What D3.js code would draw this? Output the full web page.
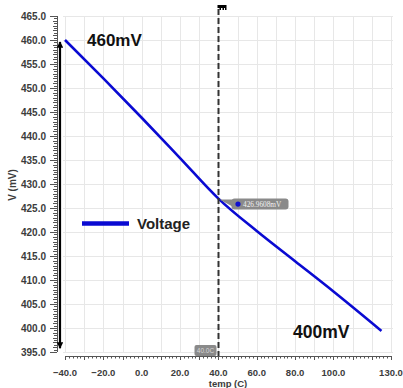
<!DOCTYPE html>
<html>
<head>
<meta charset="utf-8">
<script src="https://cdn.jsdelivr.net/npm/d3@7"></script>
<style>
  html, body { margin: 0; padding: 0; background: #fff; }
  svg { display: block; font-family: "Liberation Sans", Arial, sans-serif; }
</style>
</head>
<body>
<svg id="chart" width="403" height="388"></svg>
<script>
// voltage vs temperature
const temps = [-40, -20, 0, 20, 40, 60, 80, 100, 125];
const voltage = [460.0, 452.0, 443.8, 435.4, 426.96, 420.2, 413.9, 407.6, 399.4];

const xTicks = [-40, -20, 0, 20, 40, 60, 80, 100, 130];
const yTicks = [395, 400, 405, 410, 415, 420, 425, 430, 435, 440, 445, 450, 455, 460, 465];

const cursorTemp = 40;
const cursorValue = 426.9608;
const topNote = "460mV";
const bottomNote = "400mV";

const svg = d3.select("#chart");

const x = d3.scaleLinear().domain([-40, 130]).range([65, 391]);
const y = d3.scaleLinear().domain([395, 465]).range([352, 16]);

// grid
const grid = svg.append("g").attr("stroke", "#e7e7e7").attr("stroke-width", 1);
grid.selectAll("line.v")
  .data(d3.range(-40, 131, 10))
  .join("line")
  .attr("x1", d => Math.round(x(d)) + 0.5).attr("x2", d => Math.round(x(d)) + 0.5)
  .attr("y1", y(465)).attr("y2", y(395));
grid.selectAll("line.h")
  .data(yTicks)
  .join("line")
  .attr("x1", 63).attr("x2", 393)
  .attr("y1", d => Math.round(y(d)) + 0.5).attr("y2", d => Math.round(y(d)) + 0.5);

// y axis ruler
const yAxisX = 57;
const yAx = svg.append("g").attr("stroke", "#555").attr("stroke-width", 1);
yAx.append("line").attr("x1", yAxisX + 0.5).attr("x2", yAxisX + 0.5)
  .attr("y1", y(465)).attr("y2", y(395));
yAx.selectAll("line.t")
  .data(d3.range(395, 465.01, 0.5))
  .join("line")
  .attr("x1", yAxisX)
  .attr("x2", d => yAxisX - (d % 5 === 0 ? 7 : (d % 1 === 0 ? 4 : 3)))
  .attr("y1", d => Math.round(y(d)) + 0.5).attr("y2", d => Math.round(y(d)) + 0.5);
svg.append("g").selectAll("text")
  .data(yTicks)
  .join("text")
  .attr("x", 46).attr("y", d => y(d) + 3.5)
  .attr("text-anchor", "end")
  .attr("font-size", 10).attr("font-weight", "bold").attr("fill", "#3c3c3c")
  .text(d => d3.format(".1f")(d));

// x axis ruler
const xAxisY = 356;
const xAx = svg.append("g").attr("stroke", "#555").attr("stroke-width", 1);
xAx.append("line").attr("x1", x(-40)).attr("x2", x(130))
  .attr("y1", xAxisY + 0.5).attr("y2", xAxisY + 0.5);
xAx.selectAll("line.t")
  .data(d3.range(-40, 130.01, 2))
  .join("line")
  .attr("x1", d => Math.round(x(d)) + 0.5).attr("x2", d => Math.round(x(d)) + 0.5)
  .attr("y1", xAxisY)
  .attr("y2", d => xAxisY + (d % 10 === 0 ? 4 : 2.5));
svg.append("g").selectAll("text")
  .data(xTicks)
  .join("text")
  .attr("x", d => x(d)).attr("y", 375.5)
  .attr("text-anchor", "middle")
  .attr("font-size", 9.5).attr("font-weight", "bold").attr("fill", "#3c3c3c")
  .text(d => d3.format(".1f")(d));

// axis titles
svg.append("text")
  .attr("x", 228).attr("y", 386.5)
  .attr("text-anchor", "middle")
  .attr("font-size", 9.5).attr("font-weight", "bold").attr("fill", "#3c3c3c")
  .text("temp (C)");
svg.append("text")
  .attr("transform", "translate(16,185) rotate(-90)")
  .attr("text-anchor", "middle")
  .attr("font-size", 10).attr("font-weight", "bold").attr("fill", "#3c3c3c")
  .text("V (mV)");

// black double arrow spanning 460 -> 395
const defs = svg.append("defs");
defs.append("marker").attr("id", "ah")
  .attr("viewBox", "0 0 10 10").attr("refX", 9).attr("refY", 5)
  .attr("markerWidth", 3).attr("markerHeight", 3)
  .attr("orient", "auto-start-reverse")
  .append("path").attr("d", "M0,0L10,5L0,10z").attr("fill", "#000");
svg.append("line")
  .attr("x1", 60).attr("x2", 60)
  .attr("y1", y(459.6)).attr("y2", y(395.8))
  .attr("stroke", "#000").attr("stroke-width", 2.2)
  .attr("marker-start", "url(#ah)").attr("marker-end", "url(#ah)");

// voltage curve
const pts = temps.map((t, i) => [t, voltage[i]]);
svg.append("path")
  .datum(pts)
  .attr("fill", "none")
  .attr("stroke", "#0a0ad2")
  .attr("stroke-width", 2.6)
  .attr("d", d3.line().curve(d3.curveMonotoneX).x(d => x(d[0])).y(d => y(d[1])));

// cursor
const cx = Math.round(x(cursorTemp)) + 0.5;
svg.append("line")
  .attr("x1", cx).attr("x2", cx).attr("y1", 9).attr("y2", xAxisY)
  .attr("stroke", "#333").attr("stroke-width", 2)
  .attr("stroke-dasharray", "6,3");
svg.append("rect").attr("x", cx - 1).attr("y", 5).attr("width", 9).attr("height", 3).attr("fill", "#000");
svg.append("g").selectAll("rect")
  .data([2, 5, 7.5])
  .join("rect")
  .attr("x", d => cx - 1 + d).attr("y", 8).attr("width", 1.5).attr("height", 2).attr("fill", "#000");

// cursor value tooltip
const cy = y(cursorValue);
const tip = svg.append("g");
tip.append("path")
  .attr("d", `M${cx + 1},${cy + 1} L${cx + 14},${cy + 1} L${cx + 14},${cy + 8} Z`)
  .attr("fill", "#8a8a8a");
tip.append("rect")
  .attr("x", cx + 13).attr("y", cy).attr("width", 57).attr("height", 11)
  .attr("rx", 3).attr("fill", "#8a8a8a");
tip.append("circle").attr("cx", cx + 19.5).attr("cy", cy + 5.5).attr("r", 2.6).attr("fill", "#1010d0");
tip.append("text")
  .attr("x", cx + 24.5).attr("y", cy + 8.3)
  .attr("font-family", "'Liberation Serif', serif")
  .attr("font-size", 7.3).attr("fill", "#f2f2f2")
  .text(d3.format(".4f")(cursorValue) + "mV");

// cursor x label
svg.append("rect")
  .attr("x", cx - 24).attr("y", 345).attr("width", 22).attr("height", 11)
  .attr("rx", 2).attr("fill", "#8a8a8a");
svg.append("text")
  .attr("x", cx - 13).attr("y", 353.3)
  .attr("text-anchor", "middle")
  .attr("font-size", 6.5).attr("fill", "#d8d8d8")
  .text(d3.format(".1f")(cursorTemp) + "C");

// legend
svg.append("line")
  .attr("x1", 82).attr("x2", 129).attr("y1", 223.5).attr("y2", 223.5)
  .attr("stroke", "#0a0ad2").attr("stroke-width", 4.3);
svg.append("text")
  .attr("x", 137).attr("y", 229)
  .attr("font-size", 15).attr("font-weight", "bold").attr("fill", "#222")
  .text("Voltage");

// annotations
svg.append("text")
  .attr("x", 87).attr("y", 46)
  .attr("font-size", 17).attr("font-weight", "bold").attr("fill", "#111")
  .text(topNote);
svg.append("text")
  .attr("x", 293).attr("y", 338)
  .attr("font-size", 17.5).attr("font-weight", "bold").attr("fill", "#111")
  .text(bottomNote);
</script>
</body>
</html>
